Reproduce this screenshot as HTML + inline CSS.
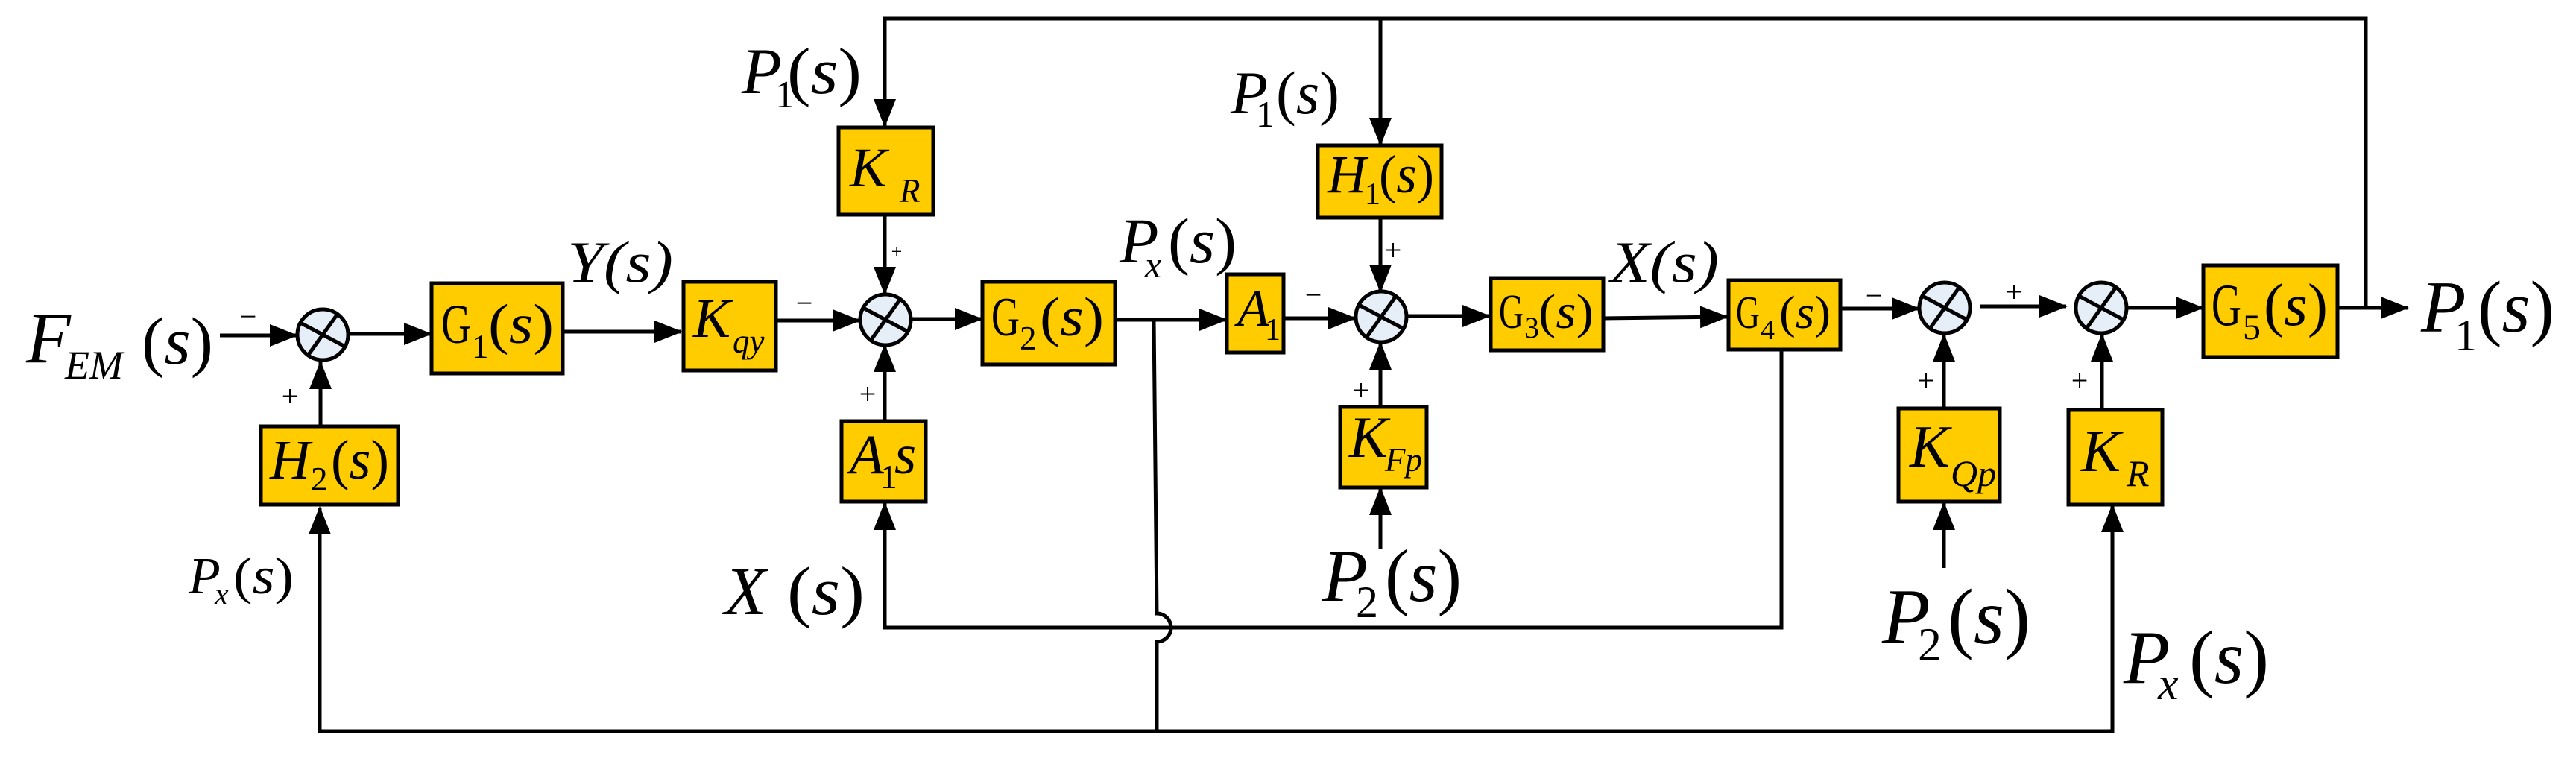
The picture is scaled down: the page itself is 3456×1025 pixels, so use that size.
<!DOCTYPE html>
<html><head><meta charset="utf-8"><style>
html,body{margin:0;padding:0;background:#fff;}
svg{display:block;}
svg text, svg tspan{font-family:"Liberation Serif","DejaVu Serif","Times New Roman",Times,serif !important;fill:#000;}
.i{font-style:italic;}
</style></head><body>
<svg width="3456" height="1025" viewBox="0 0 3456 1025" xmlns="http://www.w3.org/2000/svg">
<defs>
<marker id="a" markerWidth="38" markerHeight="30" refX="36" refY="15" orient="auto" markerUnits="userSpaceOnUse">
<path d="M0,0 L38,15 L0,30 Z" fill="#000"/>
</marker>
</defs>
<g stroke="#000" stroke-width="5" fill="none">
<line x1="295" y1="450" x2="398" y2="450" marker-end="url(#a)"/>
<line x1="467" y1="448" x2="578" y2="448" marker-end="url(#a)"/>
<line x1="755" y1="445" x2="914" y2="445" marker-end="url(#a)"/>
<line x1="1042" y1="430" x2="1153" y2="430" marker-end="url(#a)"/>
<line x1="1222" y1="428" x2="1317" y2="428" marker-end="url(#a)"/>
<line x1="1496" y1="429" x2="1645" y2="429" marker-end="url(#a)"/>
<line x1="1722" y1="427" x2="1818" y2="427" marker-end="url(#a)"/>
<line x1="1887" y1="424" x2="1998" y2="424" marker-end="url(#a)"/>
<line x1="2151" y1="427" x2="2317" y2="425" marker-end="url(#a)"/>
<line x1="2470" y1="414" x2="2574" y2="414" marker-end="url(#a)"/>
<line x1="2656" y1="411" x2="2772" y2="411" marker-end="url(#a)"/>
<line x1="2853" y1="413" x2="2955" y2="413" marker-end="url(#a)"/>
<line x1="3136" y1="413" x2="3230" y2="413" marker-end="url(#a)"/>
<polyline points="3174,413 3174,25 1187,25 1187,169" marker-end="url(#a)"/>
<line x1="1852" y1="25" x2="1852" y2="194" marker-end="url(#a)"/>
<line x1="1187" y1="288" x2="1187" y2="394" marker-end="url(#a)"/>
<line x1="1852" y1="292" x2="1852" y2="391" marker-end="url(#a)"/>
<line x1="430" y1="572" x2="430" y2="486" marker-end="url(#a)"/>
<line x1="1187" y1="565" x2="1187" y2="463" marker-end="url(#a)"/>
<line x1="1852" y1="546" x2="1852" y2="460" marker-end="url(#a)"/>
<line x1="2608" y1="548" x2="2608" y2="449" marker-end="url(#a)"/>
<line x1="2820" y1="548" x2="2820" y2="449" marker-end="url(#a)"/>
<line x1="1852" y1="736" x2="1852" y2="655" marker-end="url(#a)"/>
<line x1="2608" y1="762" x2="2608" y2="675" marker-end="url(#a)"/>
<polyline points="2390,468 2390,842 1187,842 1187,675" marker-end="url(#a)"/>
<path d="M1548,429 L1552,823 A19,19 0 0 1 1552,861 L1552,981 L429,981 L429,681" marker-end="url(#a)"/>
<polyline points="1552,981 2834,981 2834,678" marker-end="url(#a)"/>
</g>
<g stroke="#000" stroke-width="5" fill="#e6eef8">
<circle cx="433" cy="449" r="34"/>
<circle cx="1188" cy="429" r="34"/>
<circle cx="1853" cy="425" r="34"/>
<circle cx="2609" cy="413" r="34"/>
<circle cx="2819" cy="413" r="34"/>
</g>
<g stroke="#000" stroke-width="5">
<line x1="413" y1="477" x2="453" y2="421"/><line x1="403" y1="433" x2="463" y2="465"/>
<line x1="1168" y1="457" x2="1208" y2="401"/><line x1="1158" y1="413" x2="1218" y2="445"/>
<line x1="1833" y1="453" x2="1873" y2="397"/><line x1="1823" y1="409" x2="1883" y2="441"/>
<line x1="2589" y1="441" x2="2629" y2="385"/><line x1="2579" y1="397" x2="2639" y2="429"/>
<line x1="2799" y1="441" x2="2839" y2="385"/><line x1="2789" y1="397" x2="2849" y2="429"/>
</g>
<g stroke="#000" stroke-width="5" fill="#ffcc00">
<rect x="579" y="380" width="176" height="121"/>
<rect x="917" y="378" width="124" height="119"/>
<rect x="1125" y="171" width="127" height="117"/>
<rect x="350" y="572" width="184" height="105"/>
<rect x="1129" y="565" width="113" height="108"/>
<rect x="1318" y="378" width="178" height="111"/>
<rect x="1646" y="368" width="76" height="105"/>
<rect x="1768" y="195" width="166" height="97"/>
<rect x="1798" y="546" width="116" height="108"/>
<rect x="2000" y="373" width="151" height="97"/>
<rect x="2319" y="376" width="150" height="93"/>
<rect x="2956" y="356" width="180" height="123"/>
<rect x="2547" y="548" width="136" height="125"/>
<rect x="2775" y="550" width="126" height="127"/>
</g>
<g>
<text x="592" y="460" font-size="75" textLength="40" lengthAdjust="spacingAndGlyphs">G</text><text x="633" y="480" font-size="45">1</text><text x="655" y="460" font-size="75" textLength="88" lengthAdjust="spacingAndGlyphs">(<tspan class="i">s</tspan>)</text>
<text x="930" y="452" font-size="75" class="i">K</text><text x="983" y="473" font-size="45" class="i">qy</text>
<text x="1140" y="250" font-size="75" class="i">K</text><text x="1207" y="271" font-size="45" class="i">R</text>
<text x="362" y="642" font-size="75" class="i">H</text><text x="417" y="658" font-size="45">2</text><text x="444" y="642" font-size="75" textLength="78" lengthAdjust="spacingAndGlyphs">(<tspan class="i">s</tspan>)</text>
<text x="1140" y="635" font-size="75" class="i">A</text><text x="1181" y="655" font-size="45">1</text><text x="1200" y="635" font-size="75" class="i">s</text>
<text x="1330" y="450" font-size="74" textLength="38" lengthAdjust="spacingAndGlyphs">G</text><text x="1368" y="469" font-size="45">2</text><text x="1395" y="450" font-size="74" textLength="86" lengthAdjust="spacingAndGlyphs">(<tspan class="i">s</tspan>)</text>
<text x="1660" y="437" font-size="70" class="i">A</text><text x="1697" y="456" font-size="42">1</text>
<text x="1781" y="258" font-size="72" class="i">H</text><text x="1831" y="274" font-size="42">1</text><text x="1850" y="258" font-size="72" textLength="74" lengthAdjust="spacingAndGlyphs">(<tspan class="i">s</tspan>)</text>
<text x="1810" y="613" font-size="78" class="i">K</text><text x="1858" y="632" font-size="45" class="i">Fp</text>
<text x="2011" y="440" font-size="66" textLength="33" lengthAdjust="spacingAndGlyphs">G</text><text x="2045" y="453" font-size="40">3</text><text x="2064" y="440" font-size="66" textLength="74" lengthAdjust="spacingAndGlyphs">(<tspan class="i">s</tspan>)</text>
<text x="2329" y="440" font-size="62" textLength="32" lengthAdjust="spacingAndGlyphs">G</text><text x="2362" y="455" font-size="38">4</text><text x="2387" y="440" font-size="62" textLength="69" lengthAdjust="spacingAndGlyphs">(<tspan class="i">s</tspan>)</text>
<text x="2967" y="436" font-size="80" textLength="40" lengthAdjust="spacingAndGlyphs">G</text><text x="3009" y="455" font-size="48">5</text><text x="3037" y="436" font-size="80" textLength="86" lengthAdjust="spacingAndGlyphs">(<tspan class="i">s</tspan>)</text>
<text x="2562" y="626" font-size="80" class="i">K</text><text x="2617" y="652" font-size="50" class="i">Qp</text>
<text x="2792" y="632" font-size="80" class="i">K</text><text x="2853" y="652" font-size="50" class="i">R</text>
</g>
<g>
<text x="35" y="486" font-size="98" class="i">F</text><text x="87" y="508" font-size="54" class="i">EM</text><text x="190" y="488" font-size="90" textLength="96" lengthAdjust="spacingAndGlyphs">(<tspan class="i">s</tspan>)</text>
<text x="761" y="378" font-size="78" class="i" textLength="142" lengthAdjust="spacingAndGlyphs">Y(s)</text>
<text x="995" y="125" font-size="88" class="i">P</text><text x="1040" y="144" font-size="52">1</text><text x="1056" y="125" font-size="88" textLength="100" lengthAdjust="spacingAndGlyphs">(<tspan class="i">s</tspan>)</text>
<text x="253" y="796" font-size="70" class="i">P</text><text x="288" y="811" font-size="42" class="i">x</text><text x="313" y="796" font-size="70" textLength="81" lengthAdjust="spacingAndGlyphs">(<tspan class="i">s</tspan>)</text>
<text x="972" y="824" font-size="92" class="i">X</text><text x="1056" y="824" font-size="92" textLength="104" lengthAdjust="spacingAndGlyphs">(<tspan class="i">s</tspan>)</text>
<text x="1502" y="352" font-size="86" class="i">P</text><text x="1536" y="372" font-size="50" class="i">x</text><text x="1567" y="352" font-size="86" textLength="92" lengthAdjust="spacingAndGlyphs">(<tspan class="i">s</tspan>)</text>
<text x="1651" y="152" font-size="82" class="i">P</text><text x="1685" y="170" font-size="50">1</text><text x="1712" y="152" font-size="82" textLength="85" lengthAdjust="spacingAndGlyphs">(<tspan class="i">s</tspan>)</text>
<text x="2160" y="378" font-size="78" class="i" textLength="146" lengthAdjust="spacingAndGlyphs">X(s)</text>
<text x="1774" y="806" font-size="100" class="i">P</text><text x="1819" y="828" font-size="60">2</text><text x="1858" y="806" font-size="100" textLength="103" lengthAdjust="spacingAndGlyphs">(<tspan class="i">s</tspan>)</text>
<text x="3248" y="445" font-size="99" class="i">P</text><text x="3293" y="470" font-size="60">1</text><text x="3324" y="445" font-size="99" textLength="103" lengthAdjust="spacingAndGlyphs">(<tspan class="i">s</tspan>)</text>
<text x="2525" y="863" font-size="106" class="i">P</text><text x="2573" y="886" font-size="64">2</text><text x="2613" y="863" font-size="106" textLength="111" lengthAdjust="spacingAndGlyphs">(<tspan class="i">s</tspan>)</text>
<text x="2849" y="916" font-size="102" class="i">P</text><text x="2895" y="938" font-size="62" class="i">x</text><text x="2937" y="916" font-size="102" textLength="107" lengthAdjust="spacingAndGlyphs">(<tspan class="i">s</tspan>)</text>
</g>
<g font-size="40" text-anchor="middle">
<text x="333" y="438">−</text>
<text x="389" y="545">+</text>
<text x="1079" y="420">−</text>
<text x="1203" y="346" font-size="26">+</text>
<text x="1164" y="542">+</text>
<text x="1762" y="409">−</text>
<text x="1869" y="349">+</text>
<text x="1826" y="537">+</text>
<text x="2514" y="410">−</text>
<text x="2702" y="405">+</text>
<text x="2584" y="524">+</text>
<text x="2790" y="524">+</text>
</g>
</svg>
</body></html>
